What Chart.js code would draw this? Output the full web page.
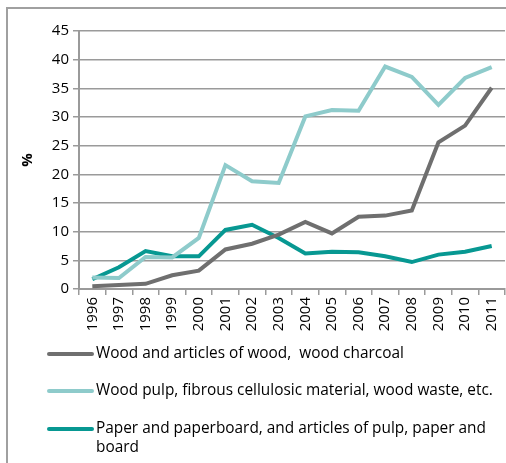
<!doctype html>
<html lang="en">
<head>
    <meta charset="utf-8">
    <script src="https://cdn.jsdelivr.net/npm/chart.js"></script>
    <title>Wood, pulp and paper</title>
    <style>
        html, body { margin: 0; padding: 0; background: #fff; }
        #wrap { position: relative; width: 506px; height: 463px; }
    </style>
</head>
<body>
<div id="wrap">
    <canvas id="chart" width="506" height="463"></canvas>
</div>
<script>
    // years on the x axis
    var years = ['1996', '1997', '1998', '1999', '2000', '2001', '2002', '2003',
        '2004', '2005', '2006', '2007', '2008', '2009', '2010', '2011'];

    // share in %
    var woodArticles = [0.5, 0.7, 0.9, 2.4, 3.2, 6.9, 7.9, 9.5, 11.7, 9.7, 12.6, 12.8, 13.7, 25.6, 28.5, 35.1];
    var woodPulp = [2.0, 1.9, 5.6, 5.5, 8.9, 21.6, 18.8, 18.5, 30.1, 31.2, 31.1, 38.8, 37.0, 32.1, 36.8, 38.7];
    var paper = [1.7, 3.8, 6.6, 5.7, 5.7, 10.3, 11.2, 8.9, 6.2, 6.5, 6.4, 5.7, 4.7, 6.0, 6.5, 7.5];

    var seriesNames = [
        'Wood and articles of wood,  wood charcoal',
        'Wood pulp, fibrous cellulosic material, wood waste, etc.',
        ['Paper and paperboard, and articles of pulp, paper and', 'board']
    ];

    var FONT = '"Open Sans", Lato, sans-serif';

    // frame round the figure + hand made legend
    var frameAndLegend = {
        id: 'frameAndLegend',
        afterDraw: function (chart) {
            var ctx = chart.ctx;
            ctx.save();
            ctx.strokeStyle = '#a0a0a0';
            ctx.lineWidth = 2;
            ctx.beginPath();
            ctx.moveTo(7, 463);
            ctx.lineTo(7, 8);
            ctx.lineTo(506, 8);
            ctx.stroke();

            var rowY = [354, 391, 429];
            ctx.font = '15.4px ' + FONT;
            ctx.textBaseline = 'middle';
            chart.data.datasets.forEach(function (ds, i) {
                ctx.strokeStyle = ds.borderColor;
                ctx.lineWidth = 4;
                ctx.lineCap = 'round';
                ctx.beginPath();
                ctx.moveTo(49, rowY[i]);
                ctx.lineTo(92, rowY[i]);
                ctx.stroke();
                ctx.fillStyle = '#000';
                var lines = [].concat(ds.label);
                lines.forEach(function (t, k) {
                    ctx.fillText(t, 96, rowY[i] + k * 19);
                });
            });
            ctx.restore();
        }
    };

    new Chart(document.getElementById('chart'), {
        type: 'line',
        data: {
            labels: years,
            datasets: [{
                label: seriesNames[0],
                data: woodArticles,
                borderColor: '#6f6f6f',
                backgroundColor: '#6f6f6f'
            }, {
                label: seriesNames[1],
                data: woodPulp,
                borderColor: '#8ecbcb',
                backgroundColor: '#8ecbcb'
            }, {
                label: seriesNames[2],
                data: paper,
                borderColor: '#079892',
                backgroundColor: '#079892'
            }]
        },
        options: {
            responsive: false,
            animation: false,
            devicePixelRatio: 1,
            elements: {
                line: { borderWidth: 4, tension: 0, borderJoinStyle: 'miter' },
                point: { radius: 0 }
            },
            layout: { padding: { left: 0, top: 31, right: 1, bottom: 118 } },
            scales: {
                x: {
                    offset: true,
                    grid: {
                        offset: true,
                        drawOnChartArea: false,
                        drawTicks: true,
                        tickLength: 6,
                        color: '#9a9a9a',
                        lineWidth: 1.5
                    },
                    border: { color: '#9a9a9a', width: 2 },
                    ticks: {
                        minRotation: 90,
                        maxRotation: 90,
                        autoSkip: false,
                        padding: 2,
                        color: '#000',
                        font: { family: FONT, size: 15 }
                    },
                    afterFit: function (scale) {
                        scale.height = 56;
                        scale.paddingRight = 0;
                        scale.paddingLeft = 0;
                    }
                },
                y: {
                    min: 0,
                    max: 45,
                    grid: {
                        color: '#9a9a9a',
                        lineWidth: 1.5,
                        tickLength: 6
                    },
                    border: { color: '#9a9a9a', width: 2 },
                    ticks: {
                        stepSize: 5,
                        padding: 4,
                        color: '#000',
                        font: { family: FONT, size: 15 }
                    },
                    title: {
                        display: true,
                        text: '%',
                        color: '#000',
                        font: { family: FONT, size: 15, weight: 'bold' },
                        padding: { top: 19, bottom: 0 }
                    },
                    afterFit: function (scale) { scale.width = 79; }
                }
            },
            plugins: {
                legend: { display: false },
                tooltip: { enabled: false }
            }
        },
        plugins: [frameAndLegend]
    });
</script>
</body>
</html>
